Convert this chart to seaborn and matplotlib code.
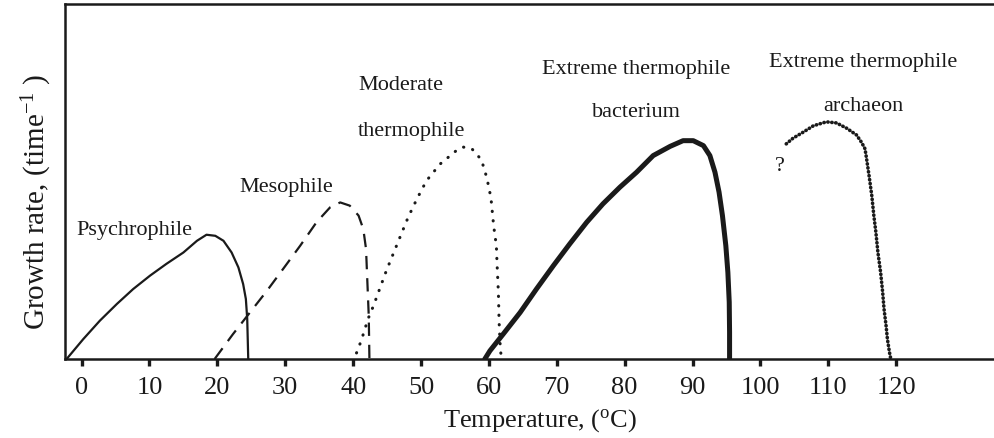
import pandas as pd
import matplotlib
matplotlib.use("Agg")
import matplotlib.pyplot as plt
import seaborn as sns

# growth curves (temperature in C, relative growth rate)
psychro_t = [-2.2, 0.25, 2.7, 5.2, 7.6, 10.1, 12.5, 15.0, 17.0, 18.4, 19.7, 20.9,
             22.1, 23.1, 23.8, 24.2, 24.4, 24.55]
psychro_r = [0.0, 0.056, 0.108, 0.155, 0.197, 0.235, 0.268, 0.300, 0.333, 0.350, 0.347, 0.333,
             0.300, 0.258, 0.211, 0.169, 0.113, 0.0]

meso_t = [19.6, 22.3, 24.8, 27.3, 29.7, 32.2, 34.6, 36.6, 38.1, 39.5, 40.8, 41.5,
          41.9, 42.1, 42.3, 42.4]
meso_r = [0.0, 0.070, 0.131, 0.192, 0.254, 0.319, 0.385, 0.427, 0.441, 0.432, 0.404, 0.366,
          0.310, 0.216, 0.122, 0.0]

moder_t = [40.5, 41.0, 41.5, 42.2, 43.0, 43.9, 44.9, 45.9, 46.9, 48.1, 49.4, 50.8, 52.8,
           55.2, 56.2, 57.5, 58.9, 59.7, 60.3, 60.7, 61.1, 61.2, 61.4, 61.5, 61.7, 61.9]
moder_r = [0.017, 0.042, 0.070, 0.113, 0.150, 0.197, 0.249, 0.296, 0.343, 0.399, 0.451, 0.502, 0.549,
           0.587, 0.597, 0.592, 0.561, 0.510, 0.454, 0.375, 0.319, 0.268, 0.186, 0.105, 0.023, 0.0]

bact_t = [59.4, 60.15, 62.1, 64.6, 67.0, 69.5, 71.9, 74.4, 76.8, 79.3, 81.75, 84.2, 86.7,
          88.6, 90.1, 91.6, 92.55, 93.3, 93.9, 94.4, 94.9, 95.2, 95.4, 95.45, 95.45]
bact_r = [0.0, 0.023, 0.070, 0.131, 0.197, 0.263, 0.324, 0.385, 0.437, 0.484, 0.526, 0.573, 0.599,
          0.615, 0.615, 0.601, 0.573, 0.526, 0.470, 0.404, 0.319, 0.244, 0.160, 0.075, 0.0]

arch_t = [103.8, 104.8, 106.3, 107.8, 109.7, 111.2, 112.7, 114.15, 114.9, 115.4, 115.6, 116.0,
          116.4, 116.7, 117.0, 117.3, 117.7, 118.0, 118.2, 118.5, 118.7, 119.0, 119.2]
arch_r = [0.606, 0.622, 0.639, 0.657, 0.668, 0.665, 0.650, 0.631, 0.610, 0.592, 0.568, 0.516,
          0.460, 0.404, 0.357, 0.300, 0.244, 0.188, 0.141, 0.094, 0.056, 0.019, 0.0]

tick_values = [0, 10, 20, 30, 40, 50, 60, 70, 80, 90, 100, 110, 120]

sns.set_style("ticks")
plt.rcParams["font.family"] = ["Liberation Serif", "DejaVu Serif"]
plt.rcParams["mathtext.fontset"] = "custom"
plt.rcParams["mathtext.rm"] = "Liberation Serif"
plt.rcParams["mathtext.it"] = "Liberation Serif:italic"

fig = plt.figure(figsize=(9.94, 4.39), dpi=100)
ax = fig.add_axes([0.0654, 0.18, 0.9346, 0.8086])

ink = "#1a1a1a"
curves = [
    (psychro_t, psychro_r, dict(linewidth=1.6, linestyle="-")),
    (meso_t, meso_r, dict(linewidth=1.6, linestyle=(0, (6, 4)))),
    (moder_t, moder_r, dict(linewidth=2.2, linestyle=(0, (0.1, 3.0)), dash_capstyle="round")),
    (bact_t, bact_r, dict(linewidth=3.6, linestyle="-")),
    (arch_t, arch_r, dict(linewidth=2.6, linestyle=(0, (0.1, 1.0)), dash_capstyle="round")),
]
for t, r, style in curves:
    df = pd.DataFrame({"temp": t, "rate": r})
    sns.lineplot(data=df, x="temp", y="rate", sort=False, estimator=None,
                 color=ink, ax=ax, **style)

# curve labels
lab = dict(fontsize=16, color=ink, va="center")
ax.text(-0.8, 0.366, "Psychrophile", ha="left", **lab)
ax.text(23.3, 0.487, "Mesophile", ha="left", **lab)
ax.text(40.7, 0.772, "Moderate", ha="left", **lab)
ax.text(40.7, 0.645, "thermophile", ha="left", **lab)
ax.text(81.7, 0.817, "Extreme thermophile", ha="center", **lab)
ax.text(81.7, 0.696, "bacterium", ha="center", **lab)
ax.text(115.1, 0.837, "Extreme thermophile", ha="center", **lab)
ax.text(115.1, 0.713, "archaeon", ha="center", **lab)
ax.text(102.9, 0.544, "?", ha="center", **lab)

ax.set_xlim(-2.44, 134.4)
ax.set_ylim(0, 1)
ax.set_xticks(tick_values)
ax.set_xticklabels([str(v) for v in tick_values])
ax.set_yticks([])
ax.tick_params(axis="x", direction="out", length=5, width=2.4, color=ink,
               labelsize=19, pad=7, labelcolor=ink)

for side in ["left", "top", "bottom"]:
    ax.spines[side].set_linewidth(1.8)
    ax.spines[side].set_color(ink)
ax.spines["right"].set_visible(False)

ax.set_xlabel(r"Temperature, ($^{\rm o}$C)", fontsize=19, color=ink, labelpad=6)
ax.xaxis.label.set_x(0.511)
ax.set_ylabel(r"Growth rate, (time$^{-1}$ )", fontsize=21, color=ink, labelpad=8)
ax.yaxis.label.set_y(0.445)

fig.savefig("out.png", dpi=100)
